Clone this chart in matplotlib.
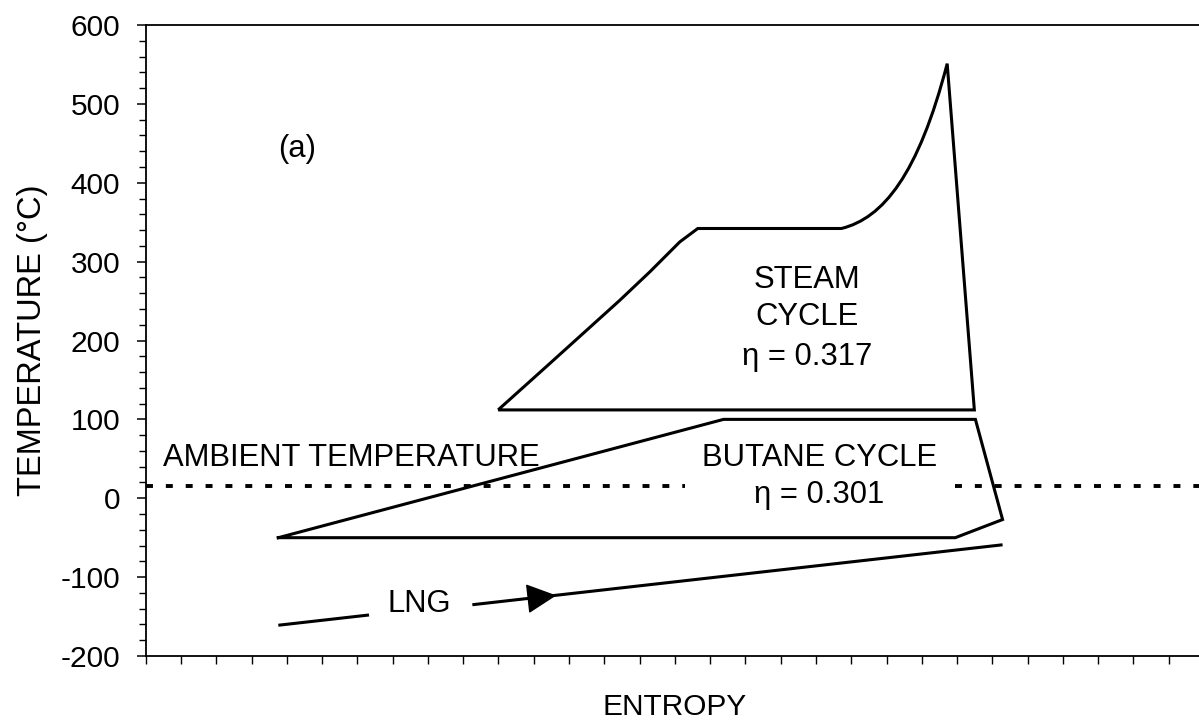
import numpy as np
import matplotlib
matplotlib.use("Agg")
import matplotlib.pyplot as plt
from matplotlib.ticker import MultipleLocator
from matplotlib.path import Path
from matplotlib.patches import PathPatch

# ---------------- data ----------------
# steam cycle: liquid heating + evaporation plateau
steam_s = [9.99, 11.36, 12.40, 13.44, 14.29, 15.14, 15.65, 19.72]
steam_t = [112, 167, 209, 251, 287, 325, 342, 342]
# superheating (cubic Bezier: two control points + peak)
superheat_s = [20.9, 21.9, 22.72]
superheat_t = [355, 410, 551]
# expansion + condensation back to start
expansion_s = [23.49, 9.99]
expansion_t = [112, 112]

butane_s = [3.76, 16.38, 23.52, 24.29, 22.95, 3.76]
butane_t = [-50, 100, 100, -27, -50, -50]

lng_s = [3.76, 6.33, np.nan, 9.26, 24.29]
lng_t = [-161, -148, np.nan, -135, -59]
lng_arrow_base = (10.60, -128.5)
lng_arrow_tip = (11.64, -123.2)

ambient_s = [0, 15.28, np.nan, 22.93, 30]
ambient_t = [15, 15, np.nan, 15, 15]

yticks = [-200, -100, 0, 100, 200, 300, 400, 500, 600]
ytick_labels = ["-200", "-100", "0", "100", "200", "300", "400", "500", "600"]

# ---------------- style ----------------
plt.rcParams["font.family"] = ["Liberation Sans", "DejaVu Sans"]
plt.rcParams["lines.scale_dashes"] = False
FS = 21.5
FS_TXT = 22.3
LW = 2.2

W, H = 1199, 723
fig = plt.figure(figsize=(W / 100, H / 100), dpi=100)
x0, x1, y0, y1 = 145.7, 1204.0, 25.0, 656.0
ax = fig.add_axes([x0 / W, 1 - y1 / H, (x1 - x0) / W, (y1 - y0) / H])
ax.set_xlim(0, 30)
ax.set_ylim(-200, 600)

# steam cycle outline as one path
verts = list(zip(steam_s, steam_t)) + list(zip(superheat_s, superheat_t)) + \
    list(zip(expansion_s, expansion_t))
codes = [Path.MOVETO] + [Path.LINETO] * (len(steam_s) - 1) + \
    [Path.CURVE4] * 3 + [Path.LINETO] * len(expansion_s)
ax.add_patch(PathPatch(Path(verts, codes), fill=False, edgecolor="black",
                       lw=LW, joinstyle="miter"))

ax.plot(butane_s, butane_t, color="black", lw=LW, solid_joinstyle="miter")
ax.plot(lng_s, lng_t, color="black", lw=LW, solid_capstyle="butt")
ax.plot(ambient_s, ambient_t, color="black", lw=2.8, dashes=[5.0, 9.3],
        dash_capstyle="butt")

ax.annotate("", xy=lng_arrow_tip, xytext=lng_arrow_base,
            arrowprops=dict(arrowstyle="-|>,head_length=0.4,head_width=0.2",
                            mutation_scale=48, color="black", lw=1,
                            shrinkA=0, shrinkB=0))

# texts
ax.text(4.28, 433, "(a)", ha="center", va="baseline", fontsize=FS_TXT)
ax.text(18.75, 266, "STEAM", ha="center", va="baseline", fontsize=FS_TXT)
ax.text(18.75, 219.5, "CYCLE", ha="center", va="baseline", fontsize=FS_TXT)
ax.text(18.75, 169, "\u03b7 = 0.317", ha="center", va="baseline", fontsize=FS_TXT)
ax.text(5.84, 41, "AMBIENT TEMPERATURE", ha="center", va="baseline", fontsize=FS_TXT)
ax.text(19.1, 41, "BUTANE CYCLE", ha="center", va="baseline", fontsize=FS_TXT)
ax.text(19.1, -6.5, "\u03b7 = 0.301", ha="center", va="baseline", fontsize=FS_TXT)
ax.text(7.77, -144, "LNG", ha="center", va="baseline", fontsize=FS_TXT)

# axes styling
for side in ["left", "bottom", "top", "right"]:
    ax.spines[side].set_linewidth(1.3)
    ax.spines[side].set_color("black")

ax.set_yticks(yticks)
ax.set_yticklabels(ytick_labels)
ax.yaxis.set_minor_locator(MultipleLocator(20))
ax.xaxis.set_major_locator(MultipleLocator(1))
ax.tick_params(axis="y", which="major", direction="out", length=6.5, width=1.1,
               pad=12, labelsize=FS, colors="black")
ax.tick_params(axis="y", which="minor", direction="out", length=5, width=1.0)
ax.tick_params(axis="x", which="major", direction="out", length=5.8, width=1.0,
               labelbottom=False)

ax.set_ylabel("TEMPERATURE (\u00b0C)", fontsize=23.5)
ax.yaxis.set_label_coords((48 - x0) / (x1 - x0), 0.5)
ax.set_xlabel("ENTROPY", fontsize=FS)
ax.xaxis.set_label_coords(0.5, (y1 - 693) / (y1 - y0))

fig.savefig("out.png", dpi=100)
